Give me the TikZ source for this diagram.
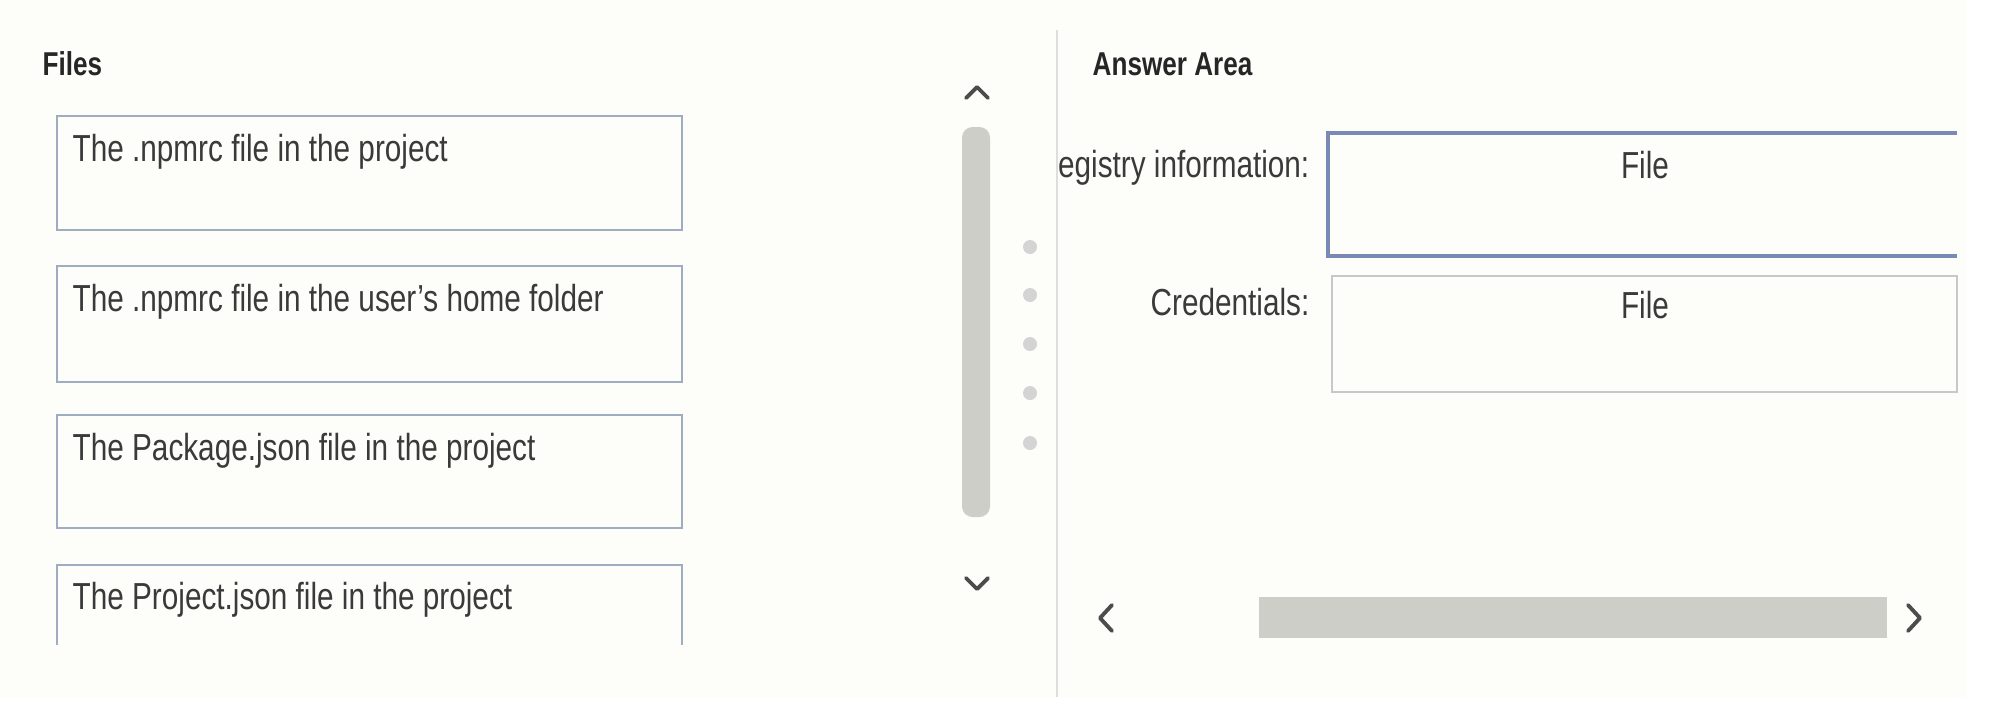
\documentclass[tikz,border=0pt]{standalone}
\usepackage{fontspec}
\setmainfont[FakeStretch=0.79]{Liberation Sans}
\usetikzlibrary{calc}
\definecolor{paper}{RGB}{253,253,249}
\definecolor{ink}{RGB}{58,58,58}
\definecolor{boxline}{RGB}{160,172,192}
\definecolor{selline}{RGB}{122,138,180}
\definecolor{greyline}{RGB}{200,200,200}
\definecolor{thumbgrey}{RGB}{206,206,201}
\definecolor{dotgrey}{RGB}{212,212,212}
\definecolor{divgrey}{RGB}{222,222,222}

\begin{document}
\begin{tikzpicture}[x=0.01cm, y=-0.01cm,
		title/.style={font=\fontsize{9.4pt}{11pt}\selectfont\bfseries, text=black!85, inner sep=0, anchor=base west},
		item/.style={font=\fontsize{10.7pt}{12pt}\selectfont, text=ink, inner sep=0, anchor=base west},
		label/.style={font=\fontsize{10.7pt}{12pt}\selectfont, text=ink, inner sep=0, anchor=base east},
		slot/.style={font=\fontsize{10.7pt}{12pt}\selectfont, text=ink, inner sep=0, anchor=base},
		filebox/.style={line width=0.7pt, color=boxline},
		chevron/.style={line width=1.1pt, color=black!70, line cap=round, line join=round}]
		%%%%% START %%%%%
		
		\useasboundingbox (0, 0) rectangle (1990, 714);
		\fill[paper] (0, 0) rectangle (1967, 697);
		
		\node[title] (files) at (42, 75) {Files};
		
		\draw[filebox] (57, 116) rectangle (682, 230);
		\node[item] (npmrcproj) at (72, 161) {The .npmrc file in the project};
		\draw[filebox] (57, 266) rectangle (682, 382);
		\node[item] (npmrchome) at (72, 311) {The .npmrc file in the user's home folder};
		\draw[filebox] (57, 415) rectangle (682, 528);
		\node[item] (packagejson) at (72, 460) {The Package.json file in the project};
		\draw[filebox] (57, 645) -- (57, 565) -- (682, 565) -- (682, 645);
		\node[item] (projectjson) at (72, 609) {The Project.json file in the project};
		
		\draw[chevron] (966, 98) -- (977, 87) -- (988, 98);
		\fill[thumbgrey, rounded corners=3] (962, 127) rectangle (990, 517);
		\draw[chevron] (966, 578) -- (977, 589) -- (988, 578);
		
		\fill[dotgrey] (1030, 247) circle (7);
		\fill[dotgrey] (1030, 295) circle (7);
		\fill[dotgrey] (1030, 344) circle (7);
		\fill[dotgrey] (1030, 393) circle (7);
		\fill[dotgrey] (1030, 443) circle (7);
		
		\draw[line width=0.3pt, color=divgrey] (1057, 30) -- (1057, 697);
		
		\node[title] (answer) at (1092, 75) {Answer Area};
		
		\begin{scope}
			\clip (1058, 0) rectangle (1990, 714);
			\node[label] (registry) at (1310, 177) {Registry information:};
			\node[label] (creds) at (1310, 315) {Credentials:};
		\end{scope}
		
		\draw[line width=1.1pt, color=selline] (1957, 133) -- (1328, 133) -- (1328, 256) -- (1957, 256);
		\node[slot] (regfile) at (1645, 178) {File};
		\draw[line width=0.45pt, color=greyline] (1332, 276) rectangle (1957, 392);
		\node[slot] (credfile) at (1645, 318) {File};
		
		\draw[chevron] (1112, 605) -- (1100, 618) -- (1112, 631);
		\fill[thumbgrey] (1259, 597) rectangle (1887, 638);
		\draw[chevron] (1908, 605) -- (1920, 618) -- (1908, 631);
		
		%%%%% END %%%%%
	\end{tikzpicture}
\end{document}
